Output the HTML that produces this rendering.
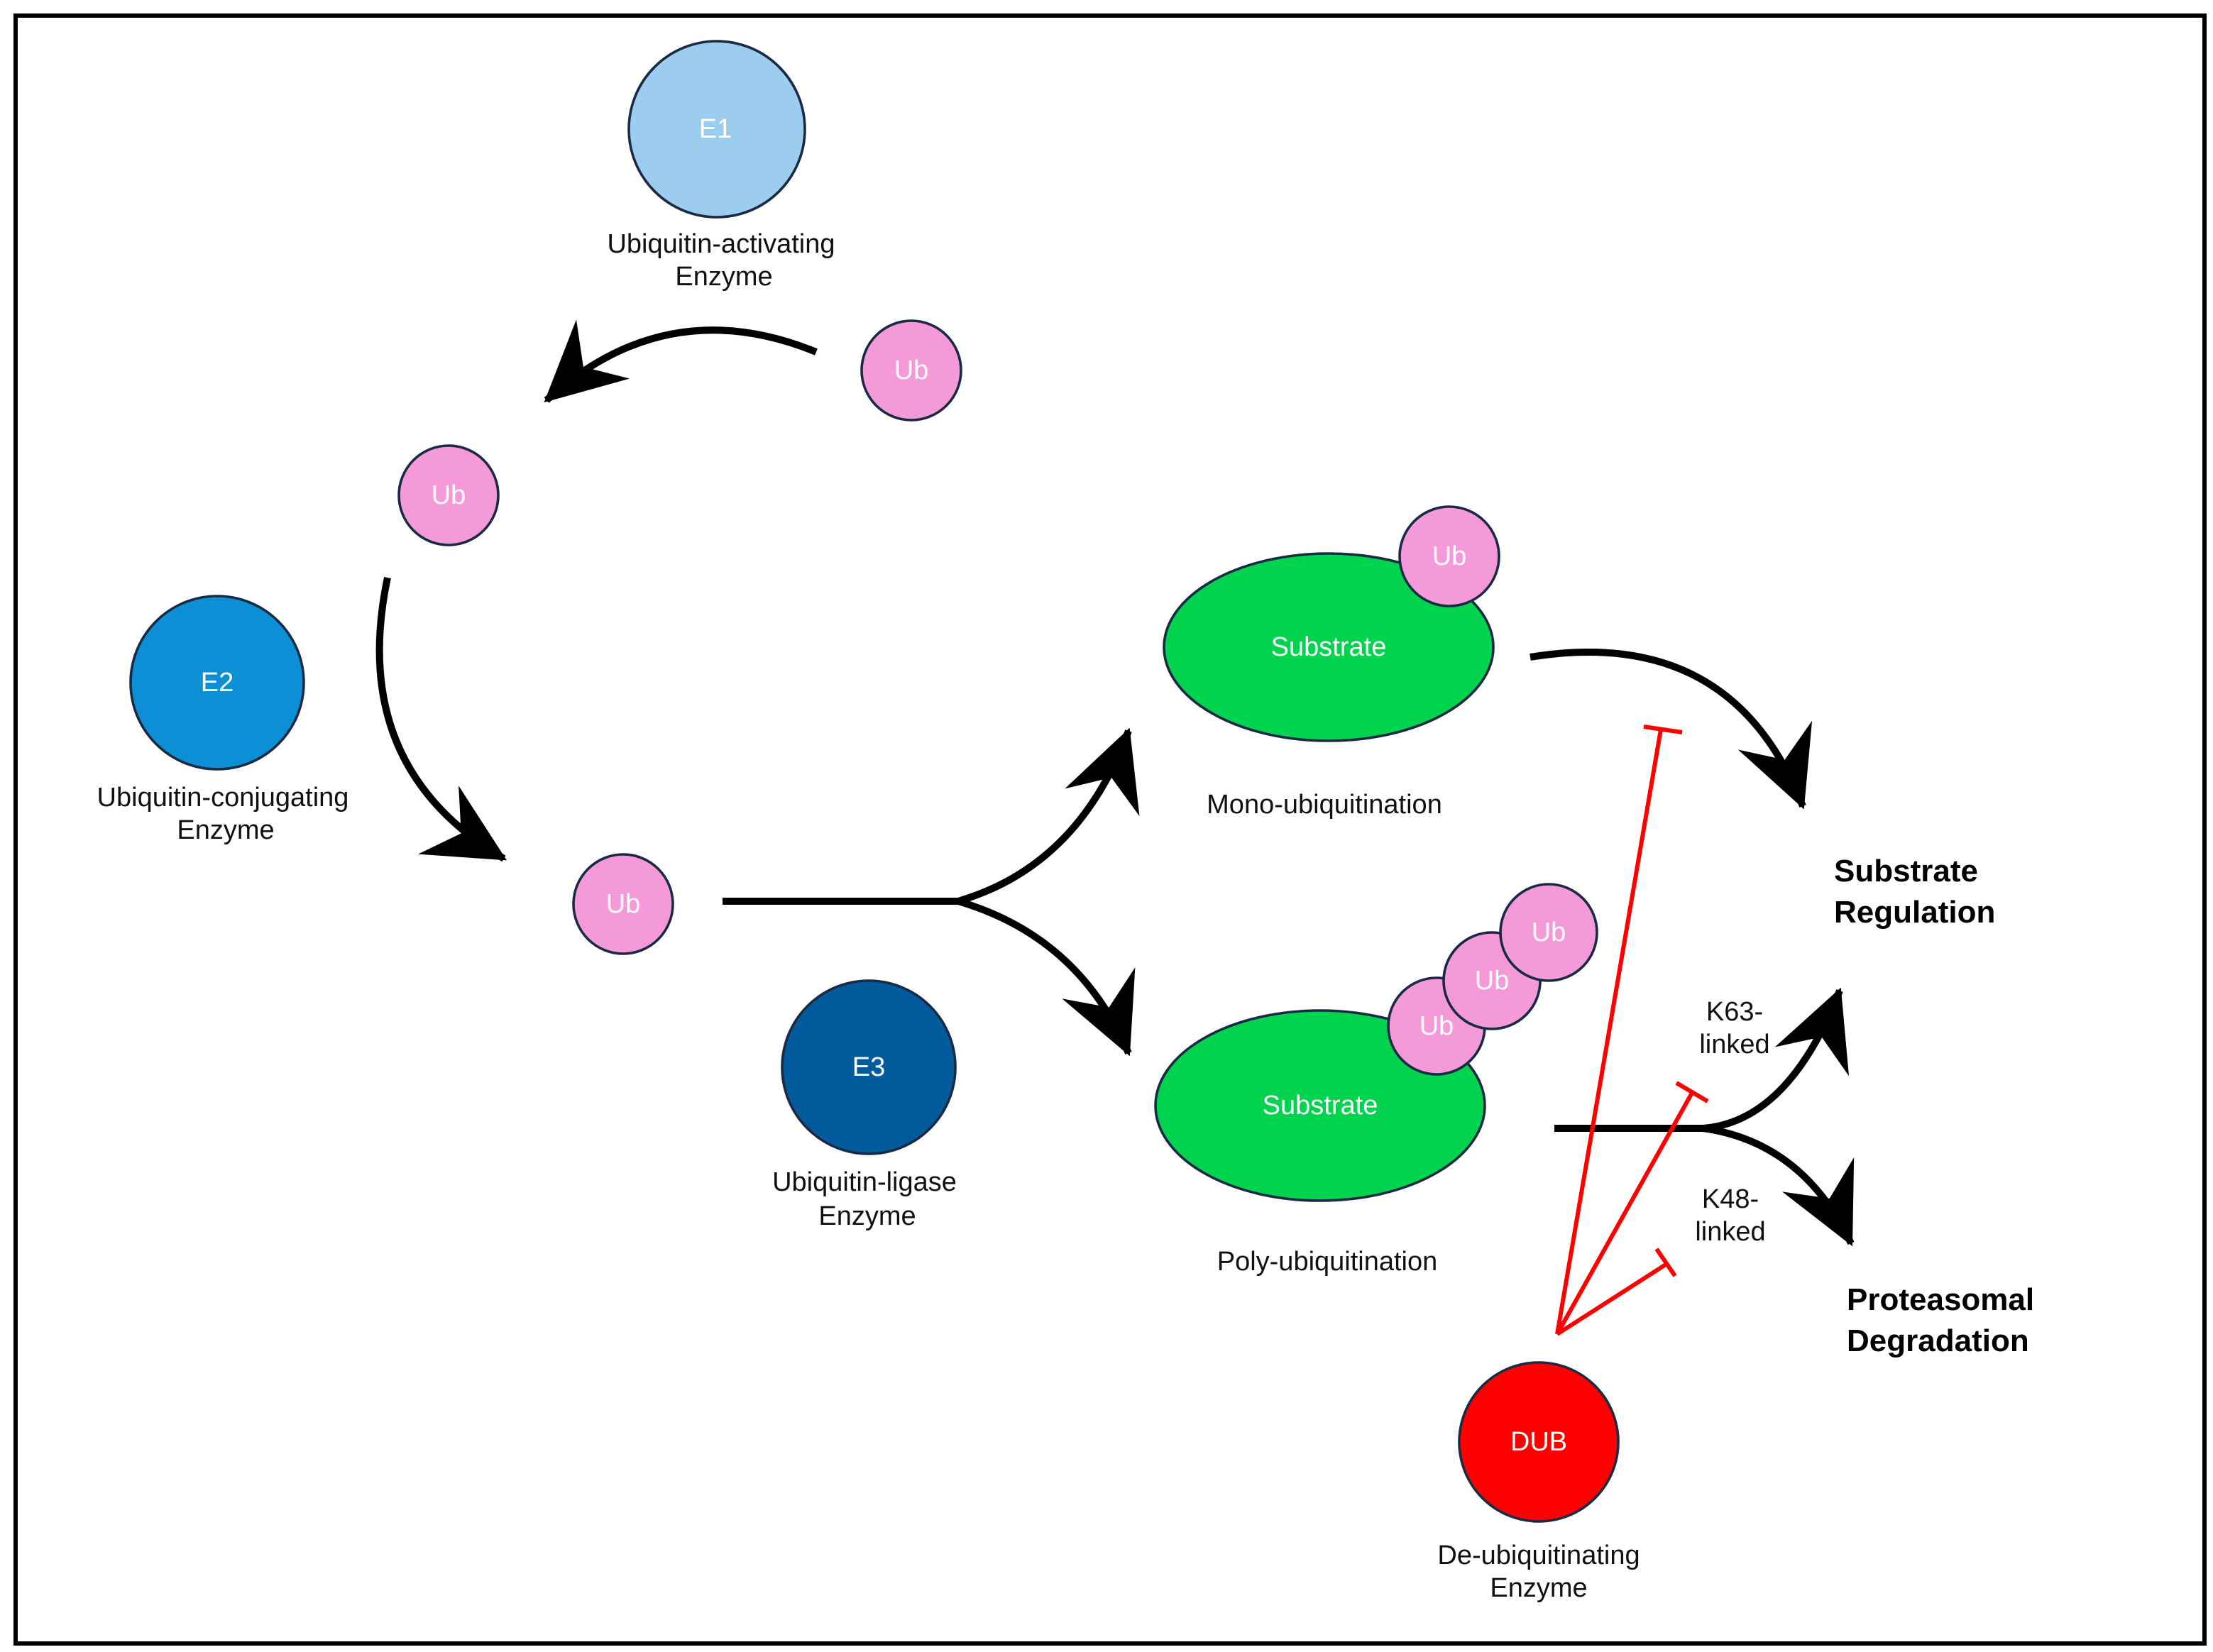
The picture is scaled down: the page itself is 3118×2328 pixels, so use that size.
<!DOCTYPE html>
<html><head><style>html,body{margin:0;padding:0;background:#fff}svg{display:block}</style></head>
<body>
<svg width="3118" height="2328" viewBox="0 0 1559 1164" xmlns="http://www.w3.org/2000/svg" font-family="Liberation Sans, sans-serif">
<defs>
<marker id="ah" markerUnits="userSpaceOnUse" markerWidth="70" markerHeight="70" refX="0" refY="0" viewBox="-50 -30 56 60" orient="auto" overflow="visible">
<path d="M2,0 L-46,-24 L-30,0 L-46,24 Z" fill="#000"/>
</marker>
</defs>
<rect x="0" y="0" width="1559" height="1164" fill="#fff"/>
<rect x="11" y="11" width="1542" height="1147" fill="none" stroke="#000" stroke-width="3"/>
<g stroke="#1a2a44" stroke-width="1.8">
<circle cx="505" cy="91" r="62" fill="#9dcdee"/>
<circle cx="642" cy="261" r="35" fill="#f59ad9"/>
<circle cx="316" cy="349" r="35" fill="#f59ad9"/>
<circle cx="153" cy="481" r="61" fill="#0d8fd6"/>
<circle cx="439" cy="637" r="35" fill="#f59ad9"/>
<circle cx="612" cy="752" r="61" fill="#005a9c"/>
<ellipse cx="936" cy="456" rx="116" ry="66" fill="#00d44f"/>
<circle cx="1021" cy="392" r="35" fill="#f59ad9"/>
<ellipse cx="930" cy="779" rx="116" ry="67" fill="#00d44f"/>
<circle cx="1012" cy="723" r="34" fill="#f59ad9"/>
<circle cx="1051" cy="691" r="34" fill="#f59ad9"/>
<circle cx="1091" cy="657" r="34" fill="#f59ad9"/>
<circle cx="1084" cy="1016" r="56" fill="#ff0000"/>
</g>
<g fill="none" stroke="#000" stroke-width="5">
<path d="M575,248 Q470,205 385,282" marker-end="url(#ah)"/>
<path d="M273,407 Q245,540 355,605" marker-end="url(#ah)"/>
<path d="M509,635 L675,635 Q760,610 795,515" marker-end="url(#ah)"/>
<path d="M675,635 Q760,660 795,742" marker-end="url(#ah)"/>
<path d="M1078,463 Q1220,440 1270,568" marker-end="url(#ah)"/>
<path d="M1095,795 L1200,795 Q1260,790 1296,698" marker-end="url(#ah)"/>
<path d="M1200,795 Q1270,805 1304,876" marker-end="url(#ah)"/>
</g>
<g fill="none" stroke="#ff0000" stroke-width="3">
<path d="M1097,940 L1170,514 M1158,512 L1185,516"/>
<path d="M1097,940 L1192,770 M1181,763 L1203,776"/>
<path d="M1097,940 L1175,890 M1167,880 L1180,899"/>
</g>
<g fill="#fff" font-size="19" text-anchor="middle" dominant-baseline="central">
<text x="504" y="91">E1</text>
<text x="642" y="261">Ub</text>
<text x="316" y="349">Ub</text>
<text x="153" y="481">E2</text>
<text x="439" y="637">Ub</text>
<text x="612" y="752">E3</text>
<text x="936" y="456">Substrate</text>
<text x="1021" y="392">Ub</text>
<text x="930" y="779">Substrate</text>
<text x="1012" y="723">Ub</text>
<text x="1051" y="691">Ub</text>
<text x="1091" y="657">Ub</text>
<text x="1084" y="1016">DUB</text>
</g>
<g fill="#111" font-size="19" text-anchor="middle">
<text x="508" y="178">Ubiquitin-activating</text>
<text x="510" y="201">Enzyme</text>
<text x="157" y="568">Ubiquitin-conjugating</text>
<text x="159" y="591">Enzyme</text>
<text x="609" y="839">Ubiquitin-ligase</text>
<text x="611" y="863">Enzyme</text>
<text x="933" y="573">Mono-ubiquitination</text>
<text x="935" y="895">Poly-ubiquitination</text>
<text x="1222" y="719">K63-</text>
<text x="1222" y="742">linked</text>
<text x="1219" y="851">K48-</text>
<text x="1219" y="874">linked</text>
<text x="1084" y="1102">De-ubiquitinating</text>
<text x="1084" y="1125">Enzyme</text>
</g>
<g fill="#000" font-size="22" font-weight="bold">
<text x="1292" y="621">Substrate</text>
<text x="1292" y="650">Regulation</text>
<text x="1301" y="923">Proteasomal</text>
<text x="1301" y="952">Degradation</text>
</g>
</svg>
</body></html>
